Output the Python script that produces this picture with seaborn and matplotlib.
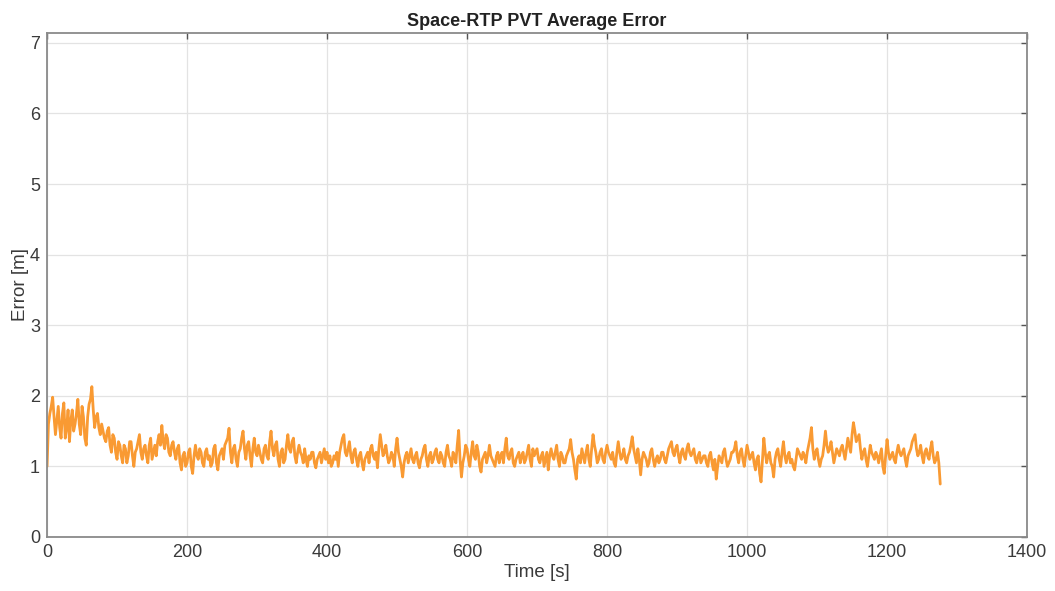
import numpy as np
import pandas as pd
import matplotlib
matplotlib.use("Agg")
import matplotlib.pyplot as plt
import seaborn as sns

# Samples every 4 s (t = 0, 4, 8, ...)
error_0_236 = [
    1.00, 1.75, 1.98, 1.45, 1.85, 1.40, 1.90, 1.55, 1.35, 1.80,
    1.60, 1.95, 1.45, 1.70, 1.30, 1.88, 2.13, 1.55, 1.75, 1.45,
    1.50, 1.35, 1.55, 1.20, 1.40, 1.10, 1.30, 1.05, 1.25, 1.15,
    1.35, 1.00, 1.25, 1.45, 1.10, 1.30, 1.05, 1.40, 1.20, 1.15,
    1.45, 1.58, 1.25, 1.40, 1.15, 1.35, 1.10, 1.30, 0.95, 1.20,
    1.05, 1.25, 0.90, 1.30, 1.10, 1.20, 1.00, 1.25, 1.15, 1.05,
]
error_240_516 = [
    1.30, 0.95, 1.20, 1.10, 1.35, 1.54, 1.05, 1.30, 1.00, 1.25,
    1.50, 1.10, 1.35, 1.00, 1.40, 1.15, 1.20, 1.05, 1.30, 1.10,
    1.50, 1.15, 1.35, 1.00, 1.25, 1.10, 1.45, 1.20, 1.40, 1.05,
    1.30, 1.15, 1.25, 1.00, 1.10, 1.20, 0.98, 1.15, 1.05, 1.25,
    1.20, 1.15, 1.05, 1.10, 1.00, 1.30, 1.45, 1.15, 1.35, 1.05,
    1.25, 1.00, 1.20, 0.95, 1.15, 1.05, 1.30, 1.10, 0.98, 1.45,
    1.15, 1.30, 1.05, 1.20, 1.00, 1.40, 1.10, 0.85, 1.15, 1.05,
]
error_520_756 = [
    1.25, 1.05, 1.20, 0.98, 1.15, 1.30, 1.00, 1.20, 1.10, 1.25,
    1.05, 1.15, 1.00, 1.30, 1.10, 1.20, 1.05, 1.51, 0.85, 1.15,
    1.25, 1.00, 1.35, 1.10, 1.20, 0.92, 1.15, 1.05, 1.30, 1.10,
    1.00, 1.20, 1.15, 1.05, 1.40, 1.10, 1.25, 1.00, 1.15, 1.05,
    1.20, 1.10, 1.30, 1.00, 1.15, 1.25, 1.05, 1.20, 1.10, 0.95,
    1.25, 1.10, 1.30, 1.00, 1.15, 1.05, 1.20, 1.38, 1.10, 0.82,
]
error_760_1036 = [
    1.15, 1.25, 1.05, 1.30, 1.00, 1.45, 1.20, 1.10, 1.25, 1.05,
    1.30, 1.15, 1.20, 1.00, 1.35, 1.10, 1.25, 1.05, 1.20, 1.42,
    1.15, 1.25, 0.88, 1.20, 1.10, 1.05, 1.25, 1.00, 1.15, 1.10,
    1.20, 1.05, 1.25, 1.35, 1.15, 1.30, 1.05, 1.25, 1.10, 1.32,
    1.15, 1.25, 1.05, 1.20, 1.10, 1.15, 1.00, 1.20, 0.95, 0.82,
    1.15, 1.05, 1.25, 1.00, 1.10, 1.20, 1.35, 1.05, 1.25, 1.00,
    1.30, 1.10, 1.20, 0.95, 1.15, 0.78, 1.40, 1.05, 1.20, 1.00,
]
error_1040_1276 = [
    1.10, 1.25, 1.00, 1.35, 1.05, 1.20, 1.10, 0.95, 1.25, 1.15,
    1.20, 1.05, 1.30, 1.55, 1.10, 1.25, 1.00, 1.15, 1.50, 1.20,
    1.35, 1.05, 1.25, 1.15, 1.30, 1.10, 1.40, 1.20, 1.62, 1.35,
    1.45, 1.10, 1.25, 1.00, 1.30, 1.15, 1.20, 1.05, 1.25, 0.90,
    1.38, 1.10, 1.20, 1.05, 1.30, 1.15, 1.25, 1.00, 1.20, 1.35,
    1.45, 1.15, 1.30, 1.05, 1.25, 1.10, 1.35, 1.05, 1.20, 0.75,
]

# Samples in between (t = 2, 6, 10, ...)
error_mid_2_238 = [
    1.60, 1.85, 1.70, 1.65, 1.55, 1.75, 1.40, 1.80, 1.65, 1.50,
    1.75, 1.60, 1.85, 1.40, 1.70, 1.95, 1.80, 1.70, 1.55, 1.60,
    1.40, 1.50, 1.30, 1.45, 1.20, 1.35, 1.15, 1.30, 1.05, 1.35,
    1.15, 1.20, 1.35, 1.20, 1.25, 1.15, 1.30, 1.10, 1.30, 1.35,
    1.30, 1.35, 1.45, 1.20, 1.30, 1.20, 1.25, 1.05, 1.15, 1.00,
    1.20, 1.00, 1.15, 1.15, 1.25, 1.05, 1.20, 1.10, 1.00, 1.25,
]
error_mid_242_518 = [
    1.05, 1.15, 1.25, 1.30, 1.40, 1.20, 1.25, 1.10, 1.20, 1.40,
    1.25, 1.30, 1.15, 1.25, 1.20, 1.30, 1.10, 1.25, 1.15, 1.35,
    1.25, 1.30, 1.10, 1.20, 1.05, 1.30, 1.25, 1.35, 1.15, 1.20,
    1.20, 1.05, 1.10, 1.15, 1.20, 1.05, 1.10, 1.20, 1.15, 1.10,
    1.05, 1.00, 1.15, 1.20, 1.20, 1.40, 1.20, 1.25, 1.15, 1.20,
    1.10, 1.15, 1.05, 1.10, 1.20, 1.25, 1.15, 1.20, 1.25, 1.30,
    1.20, 1.15, 1.10, 1.15, 1.25, 1.20, 1.00, 1.05, 1.20, 1.15,
]
error_mid_522_758 = [
    1.10, 1.15, 1.05, 1.10, 1.25, 1.10, 1.15, 1.05, 1.20, 1.10,
    1.20, 1.05, 1.20, 1.15, 1.00, 1.15, 1.30, 1.10, 1.05, 1.30,
    1.10, 1.20, 1.15, 1.30, 1.00, 1.10, 1.20, 1.15, 1.15, 1.05,
    1.15, 1.05, 1.20, 1.25, 1.15, 1.20, 1.05, 1.10, 1.20, 1.15,
    1.05, 1.20, 1.10, 1.25, 1.20, 1.10, 1.15, 1.00, 1.20, 1.15,
    1.15, 1.20, 1.10, 1.20, 1.05, 1.15, 1.25, 1.20, 0.95, 1.10,
]
error_mid_762_1038 = [
    1.05, 1.15, 1.20, 1.10, 1.25, 1.30, 1.05, 1.20, 1.10, 1.20,
    1.20, 1.10, 1.05, 1.20, 1.20, 1.15, 1.10, 1.15, 1.30, 1.25,
    1.05, 1.10, 1.10, 1.15, 1.00, 1.20, 1.10, 1.10, 1.05, 1.20,
    1.10, 1.15, 1.30, 1.20, 1.25, 1.15, 1.20, 1.15, 1.25, 1.20,
    1.20, 1.10, 1.15, 1.05, 1.15, 1.05, 1.15, 1.05, 1.10, 1.00,
    1.10, 1.20, 1.10, 1.05, 1.20, 1.25, 1.15, 1.20, 1.10, 1.15,
    1.20, 1.15, 1.05, 1.10, 0.90, 1.10, 1.20, 1.15, 1.05, 0.85,
]
error_mid_1042_1274 = [
    1.20, 1.10, 1.20, 1.15, 1.15, 1.05, 1.00, 1.10, 1.20, 1.10,
    1.15, 1.20, 1.40, 1.25, 1.20, 1.10, 1.10, 1.30, 1.30, 1.25,
    1.20, 1.15, 1.20, 1.25, 1.20, 1.25, 1.30, 1.45, 1.50, 1.40,
    1.25, 1.20, 1.10, 1.15, 1.20, 1.10, 1.15, 1.15, 1.00, 1.15,
    1.20, 1.15, 1.10, 1.20, 1.20, 1.20, 1.10, 1.15, 1.25, 1.40,
    1.25, 1.20, 1.15, 1.20, 1.15, 1.25, 1.15, 1.10, 1.05,
]

x_ticks = [0, 200, 400, 600, 800, 1000, 1200, 1400]
y_ticks = [0, 1, 2, 3, 4, 5, 6, 7]

error_main = (error_0_236 + error_240_516 + error_520_756
              + error_760_1036 + error_1040_1276)
error_mid = (error_mid_2_238 + error_mid_242_518 + error_mid_522_758
             + error_mid_762_1038 + error_mid_1042_1274)
time_main = [4 * i for i in range(len(error_main))]
time_mid = [4 * i + 2 for i in range(len(error_mid))]

df = pd.DataFrame({"Time [s]": time_main + time_mid,
                   "Error [m]": error_main + error_mid})
df = df.sort_values("Time [s]").reset_index(drop=True)

sns.set_style("white")
plt.rcParams["font.family"] = ["Liberation Sans", "DejaVu Sans"]

fig = plt.figure(figsize=(10.55, 5.91), dpi=100)
ax = fig.add_axes([0.0446, 0.0914, 0.9289, 0.8528])

sns.lineplot(data=df, x="Time [s]", y="Error [m]", ax=ax,
             color="#F99A33", linewidth=2.0, estimator=None, sort=False)

ax.set_xlim(0, 1400)
ax.set_ylim(0, 7.14)
ax.set_xticks(x_ticks)
ax.set_yticks(y_ticks)
ax.grid(True, color="#E3E3E3", linewidth=0.9)
ax.set_axisbelow(True)
for s in ax.spines.values():
    s.set_color("#8A8A8A")
    s.set_linewidth(1.3)
ax.tick_params(axis="both", which="both", direction="in", length=4,
               width=1, color="#555555", labelsize=13, labelcolor="#3A3A3A",
               top=True, right=True, pad=5)
ax.set_xlabel("Time [s]", fontsize=13.5, color="#3A3A3A", labelpad=2)
ax.set_ylabel("Error [m]", fontsize=13.5, color="#3A3A3A", labelpad=1)
ax.set_title("Space-RTP PVT Average Error", fontsize=13,
             fontweight="bold", color="#222222", pad=5)

fig.savefig("out.png", dpi=100, facecolor="white")
